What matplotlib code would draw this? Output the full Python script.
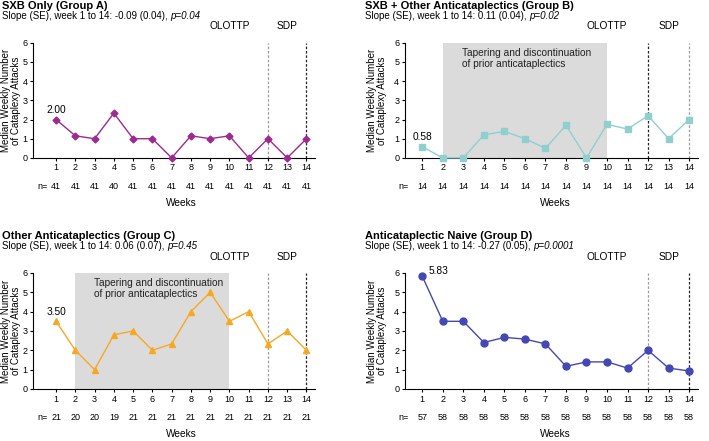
import numpy as np
import matplotlib
matplotlib.use('Agg')
import matplotlib.pyplot as plt

plt.rcParams['font.family'] = ['Liberation Sans', 'DejaVu Sans']

weeks = np.arange(1, 15)

titles = ['SXB Only (Group A)', 'SXB + Other Anticataplectics (Group B)',
          'Other Anticataplectics (Group C)', 'Anticataplectic Naive (Group D)']
slopes = ['-0.09 (0.04)', '0.11 (0.04)', '0.06 (0.07)', '-0.27 (0.05)']
pvals = ['p=0.04', 'p=0.02', 'p=0.45', 'p=0.0001']

group_a = [2.00, 1.15, 1.0, 2.33, 1.0, 1.0, 0.0, 1.15, 1.0, 1.15, 0.0, 1.0, 0.0, 1.0]
group_b = [0.58, 0.0, 0.0, 1.2, 1.38, 1.0, 0.5, 1.7, 0.0, 1.75, 1.5, 2.2, 1.0, 2.0]
group_c = [3.50, 2.0, 1.0, 2.8, 3.0, 2.0, 2.33, 4.0, 5.0, 3.5, 4.0, 2.33, 3.0, 2.0]
group_d = [5.83, 3.5, 3.5, 2.4, 2.67, 2.58, 2.33, 1.17, 1.4, 1.4, 1.08, 2.0, 1.08, 0.93]

n_a = [41, 41, 41, 40, 41, 41, 41, 41, 41, 41, 41, 41, 41, 41]
n_b = [14] * 14
n_c = [21, 20, 20, 19, 21, 21, 21, 21, 21, 21, 21, 21, 21, 21]
n_d = [57] + [58] * 13

first_labels = ['2.00', '0.58', '3.50', '5.83']
shaded = [False, True, True, False]

series = [group_a, group_b, group_c, group_d]
counts = [n_a, n_b, n_c, n_d]
colors = ['#9c2a8f', '#8fd0cf', '#f7a823', '#4448b3']
markers = ['D', 's', '^', 'o']
msizes = [3.5, 5, 5, 5]
# style of the two vertical lines (week 12, week 14)
vstyles = [('#999999', '#222222'), ('#222222', '#999999'),
           ('#999999', '#222222'), ('#999999', '#222222')]

fig = plt.figure(figsize=(7.09, 4.41), dpi=100)
positions = [[0.0465, 0.642, 0.398, 0.261],
             [0.571, 0.642, 0.414, 0.261],
             [0.0465, 0.118, 0.398, 0.263],
             [0.571, 0.118, 0.414, 0.263]]

for i in range(4):
    left = i in (0, 2)
    ax = fig.add_axes(positions[i])
    ax.set_xlim(-0.2 if left else 0.15, 14.45)
    ax.set_ylim(0, 6)

    if shaded[i]:
        ax.axvspan(2, 10, ymin=0, ymax=1, color='#dcdbdc', lw=0, zorder=0)
        ax.text(2.95, 5.75, 'Tapering and discontinuation\nof prior anticataplectics',
                fontsize=7.3, va='top', ha='left', color='#222222', linespacing=1.2)

    for wk, col in zip([12, 14], vstyles[i]):
        ax.plot([wk, wk], [0, 6], color=col, lw=0.9, ls=(0, (2, 1.5)), zorder=1)

    ax.plot(weeks, series[i], color=colors[i], lw=1.0, marker=markers[i],
            markersize=msizes[i], zorder=3, clip_on=False)

    if i == 3:
        ax.text(1.3, series[i][0] + 0.1, first_labels[i], fontsize=7.3, ha='left')
    else:
        ax.text(1, series[i][0] + 0.35, first_labels[i], fontsize=7.3, ha='center')

    ax.spines['top'].set_visible(False)
    ax.spines['right'].set_visible(False)
    ax.spines['left'].set_linewidth(0.8)
    ax.spines['bottom'].set_linewidth(0.8)
    ax.set_xticks(weeks)
    ax.set_xticklabels([str(w) for w in weeks], fontsize=6.5)
    ax.set_yticks(range(7))
    ax.set_yticklabels([str(v) for v in range(7)], fontsize=6.5)
    ax.tick_params(length=2.5, width=0.8, pad=1.5)

    ax.set_ylabel('Median Weekly Number\nof Cataplexy Attacks', fontsize=7,
                  linespacing=1.0)
    ax.yaxis.set_label_coords(-0.042 if left else -0.06, 0.5)

    # n= row
    ax.text(0.3 if left else 0.1, -1.5, 'n=', fontsize=6.5, ha='center', va='center')
    for w, n in zip(weeks, counts[i]):
        ax.text(w, -1.5, str(n), fontsize=6.5, ha='center', va='center')
    ax.text(7.5, -2.35, 'Weeks', fontsize=7.3, ha='center', va='center')

    ax.text(10, 6.85, 'OLOTTP', fontsize=7.3, ha='center', va='center')
    ax.text(13, 6.85, 'SDP', fontsize=7.3, ha='center', va='center')

    # titles
    xt = -0.11 if left else -0.137
    ax.text(xt, 1.32, titles[i], transform=ax.transAxes, fontsize=8,
            fontweight='bold', ha='left', va='center')
    ax.text(xt, 1.235, 'Slope (SE), week 1 to 14: ' + slopes[i] + ', ',
            transform=ax.transAxes, fontsize=7, ha='left', va='center')

fig.canvas.draw()
# italic p-values placed right after the slope text
for ax, p in zip(fig.axes, pvals):
    t = [tx for tx in ax.texts if tx.get_text().startswith('Slope')][0]
    bb = t.get_window_extent()
    x_ax = ax.transAxes.inverted().transform((bb.x1, bb.y0))[0]
    ax.text(x_ax, 1.235, p, transform=ax.transAxes, fontsize=7, style='italic',
            ha='left', va='center')

fig.savefig('out.png', dpi=100)
